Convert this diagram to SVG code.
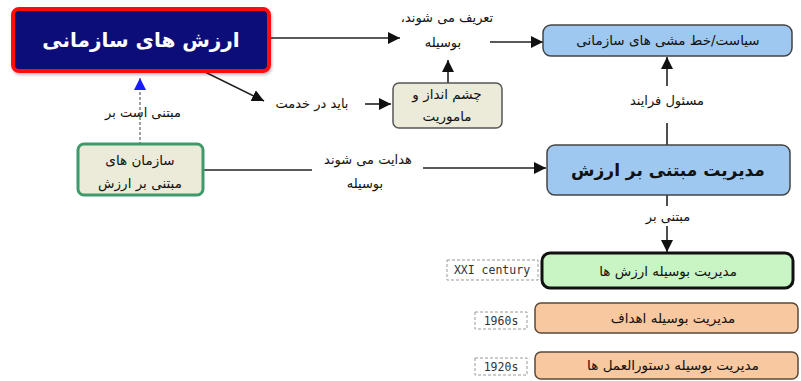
<svg xmlns="http://www.w3.org/2000/svg" width="801" height="381" viewBox="0 0 801 381">
<defs>
<marker id="ah" viewBox="0 0 10 10" refX="10" refY="5" markerWidth="12" markerHeight="12" markerUnits="userSpaceOnUse" orient="auto">
<path d="M0,0 L10,5 L0,10 Z" fill="#111"/>
</marker>
<marker id="ahb" viewBox="0 0 10 10" refX="10" refY="5" markerWidth="12" markerHeight="12" markerUnits="userSpaceOnUse" orient="auto">
<path d="M0,0 L10,5 L0,10 Z" fill="#1a1aff"/>
</marker>
<filter id="sh" x="-10%" y="-10%" width="120%" height="130%">
<feDropShadow dx="1" dy="2" stdDeviation="1.5" flood-color="#000" flood-opacity="0.25"/>
</filter>
</defs>
<style>
text{font-family:"DejaVu Sans",sans-serif;fill:#111;text-anchor:middle}
.lbl{font-size:13px}
.box{font-size:13.5px}
.mono{font-family:"DejaVu Sans Mono","Liberation Mono",monospace;font-size:11.5px;fill:#333}
.edge{stroke:#222;stroke-width:1.6;fill:none}
.tag{fill:#fff;stroke:#999;stroke-width:1;stroke-dasharray:3,2}
</style>
<rect width="801" height="381" fill="#fff"/>
<g id="connectors">
<line class="edge" x1="270" y1="38" x2="400" y2="38" marker-end="url(#ah)"/>
<line class="edge" x1="490" y1="42" x2="543" y2="42" marker-end="url(#ah)"/>
<line class="edge" x1="448" y1="83" x2="448" y2="60" marker-end="url(#ah)"/>
<line class="edge" x1="205" y1="72" x2="264" y2="101" marker-end="url(#ah)"/>
<line class="edge" x1="365" y1="104" x2="391" y2="104" marker-end="url(#ah)"/>
<line x1="140" y1="145" x2="140" y2="78" stroke="#888" stroke-width="1.6" stroke-dasharray="3,2" marker-end="url(#ahb)"/>
<line class="edge" x1="203" y1="170" x2="312" y2="170"/>
<line class="edge" x1="423" y1="168" x2="546" y2="168" marker-end="url(#ah)"/>
<line class="edge" x1="667" y1="145" x2="667" y2="123"/>
<line class="edge" x1="667" y1="86" x2="667" y2="57" marker-end="url(#ah)"/>
<line class="edge" x1="667" y1="195" x2="667" y2="206"/>
<line class="edge" x1="667" y1="226" x2="667" y2="252" marker-end="url(#ah)"/>
<text class="lbl" x="447" y="22" direction="rtl">تعریف می شوند،</text>
<text class="lbl" x="443" y="47" direction="rtl">بوسیله</text>
<text class="lbl" x="312" y="108" direction="rtl">باید در خدمت</text>
<text class="lbl" x="143" y="117" direction="rtl">مبتنی است بر</text>
<text class="lbl" x="368" y="164" direction="rtl">هدایت می شوند</text>
<text class="lbl" x="365" y="188" direction="rtl">بوسیله</text>
<text class="lbl" x="667" y="105" direction="rtl">مسئول فرایند</text>
<text class="lbl" x="668" y="221" direction="rtl">مبتنی بر</text>
</g>
<g id="org-values">
<rect x="13" y="9" width="256" height="62" rx="6" fill="#0b0b7a" stroke="#ff1010" stroke-width="4" filter="url(#sh)"/>
<text x="141" y="47" style="font-size:20px;font-weight:bold;fill:#fff" direction="rtl">ارزش های سازمانی</text>
</g>
<g id="policy">
<rect x="543" y="25" width="249" height="31" rx="8" fill="#9ec8f0" stroke="#444" stroke-width="1.5"/>
<text class="box" x="668" y="45" direction="rtl">سیاست/خط مشی های سازمانی</text>
</g>
<g id="vision">
<rect x="393" y="83" width="109" height="45" rx="6" fill="#ecebd9" stroke="#555" stroke-width="1.5"/>
<text class="box" x="447" y="99" direction="rtl">چشم انداز و</text>
<text class="box" x="447" y="121" direction="rtl">ماموریت</text>
</g>
<g id="value-orgs">
<rect x="78" y="144" width="125" height="51" rx="6" fill="#ecebd9" stroke="#3f9a6a" stroke-width="3"/>
<text class="box" x="140" y="165" direction="rtl">سازمان های</text>
<text class="box" x="140" y="188" direction="rtl">مبتنی بر ارزش</text>
</g>
<g id="vbm">
<rect x="547" y="145" width="243" height="50" rx="8" fill="#9ec8f0" stroke="#444" stroke-width="1.5"/>
<text x="668" y="176" style="font-size:17px;font-weight:bold" direction="rtl">مدیریت مبتنی بر ارزش</text>
</g>
<g id="mbv">
<rect x="542" y="253" width="251" height="35" rx="8" fill="#c9f5c5" stroke="#111" stroke-width="3"/>
<text class="box" x="668" y="276" direction="rtl">مدیریت بوسیله ارزش ها</text>
<rect class="tag" x="447" y="260" width="91" height="20"/>
<text class="mono" x="492" y="274">XXI century</text>
</g>
<g id="mbo">
<rect x="535" y="303" width="263" height="30" rx="6" fill="#f8c8a0" stroke="#5a4a3a" stroke-width="1.5"/>
<text class="box" x="673" y="323" direction="rtl">مدیریت بوسیله اهداف</text>
<rect class="tag" x="475" y="312" width="52" height="17"/>
<text class="mono" x="501" y="325">1960s</text>
</g>
<g id="mbi">
<rect x="535" y="352" width="263" height="27" rx="6" fill="#f8c8a0" stroke="#5a4a3a" stroke-width="1.5"/>
<text class="box" x="673" y="370" direction="rtl">مدیریت بوسیله دستورالعمل ها</text>
<rect class="tag" x="475" y="358" width="52" height="17"/>
<text class="mono" x="501" y="371">1920s</text>
</g>
</svg>
